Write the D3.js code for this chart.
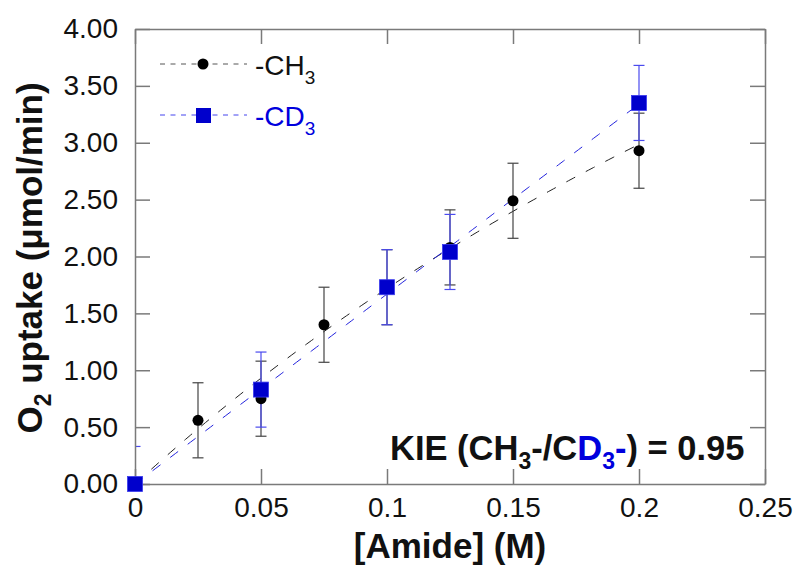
<!DOCTYPE html>
<html>
<head>
<meta charset="utf-8">
<script src="https://cdn.jsdelivr.net/npm/d3@7"></script>
<style>
  body { margin: 0; background: #fff; }
  svg { font-family: "Liberation Sans", Arial, sans-serif; }
</style>
</head>
<body>
<div id="chart"></div>
<script>
// data
var amideCH3 = [0.025, 0.05, 0.075, 0.1, 0.125, 0.15, 0.2];
var uptakeCH3 = [0.56, 0.75, 1.40, 1.73, 2.08, 2.49, 2.93];
var errCH3 = [0.33, 0.33, 0.33, 0.33, 0.33, 0.33, 0.33];

var amideCD3 = [0, 0.05, 0.1, 0.125, 0.2];
var uptakeCD3 = [0, 0.83, 1.73, 2.04, 3.35];
var errCD3 = [0.33, 0.33, 0.33, 0.33, 0.33];

// fitted curves (Michaelis-Menten for CH3, straight line for CD3)
var fitCH3 = { vmax: 11.33, km: 0.559 };
var fitCD3 = { slope: 16.7, intercept: 0 };

var xTicks = [0, 0.05, 0.1, 0.15, 0.2, 0.25];
var xTickLabels = ["0", "0.05", "0.1", "0.15", "0.2", "0.25"];
var yTicks = [0, 0.5, 1, 1.5, 2, 2.5, 3, 3.5, 4];
var yTickLabels = ["0.00", "0.50", "1.00", "1.50", "2.00", "2.50", "3.00", "3.50", "4.00"];

var svgWidth = 799;
var svgHeight = 568;

var margin = {
    top: 29,
    right: 34,
    bottom: 84,
    left: 135
};

var width = svgWidth - margin.left - margin.right;
var height = svgHeight - margin.top - margin.bottom;

var blue = "#0000cc";
var blueBar = "#4a4aee";
var axisColor = "#7a7a7a";

var svg = d3.select("#chart")
    .append("svg")
    .attr("width", svgWidth)
    .attr("height", svgHeight);

var chartGroup = svg.append("g")
    .attr("transform", `translate(${margin.left}, ${margin.top})`);

var xScale = d3.scaleLinear().domain([0, 0.25]).range([0, width]);
var yScale = d3.scaleLinear().domain([0, 4]).range([height, 0]);

svg.append("defs").append("clipPath")
    .attr("id", "plotClip")
    .append("rect")
    .attr("width", width)
    .attr("height", height);

// fit curves
var fitX = d3.range(0, 0.2001, 0.002);
var lineGen = d3.line()
    .x(d => xScale(d[0]))
    .y(d => yScale(d[1]));

chartGroup.append("path")
    .datum(fitX.map(x => [x, fitCH3.vmax * x / (fitCH3.km + x)]))
    .attr("d", lineGen)
    .attr("fill", "none")
    .attr("stroke", "#222")
    .attr("stroke-width", 1)
    .attr("stroke-dasharray", "10,12");

chartGroup.append("path")
    .datum(fitX.map(x => [x, fitCD3.slope * x + fitCD3.intercept]))
    .attr("d", lineGen)
    .attr("fill", "none")
    .attr("stroke", "#2222dd")
    .attr("stroke-width", 1)
    .attr("stroke-dasharray", "10,12");

function drawErrorBars(xs, ys, es, color) {
    var g = chartGroup.append("g").attr("clip-path", "url(#plotClip)");
    xs.forEach((x, i) => {
        var cx = xScale(x);
        var y1 = yScale(ys[i] + es[i]);
        var y2 = yScale(ys[i] - es[i]);
        g.append("line").attr("x1", cx).attr("x2", cx).attr("y1", y1).attr("y2", y2)
            .attr("stroke", color).attr("stroke-width", 1.2);
        [y1, y2].forEach(y => {
            g.append("line").attr("x1", cx - 5.5).attr("x2", cx + 5.5).attr("y1", y).attr("y2", y)
                .attr("stroke", color).attr("stroke-width", 1.2);
        });
    });
}

drawErrorBars(amideCH3, uptakeCH3, errCH3, "#444");
drawErrorBars(amideCD3, uptakeCD3, errCD3, blueBar);

// axes, ticks pointing inward on all four sides
var bottomAxis = d3.axisBottom(xScale).tickValues(xTicks)
    .tickFormat((d, i) => xTickLabels[i]).tickSizeInner(-15).tickSizeOuter(0).tickPadding(13);
var topAxis = d3.axisTop(xScale).tickValues(xTicks)
    .tickFormat("").tickSizeInner(-15).tickSizeOuter(0);
var leftAxis = d3.axisLeft(yScale).tickValues(yTicks)
    .tickFormat((d, i) => yTickLabels[i]).tickSizeInner(-15).tickSizeOuter(0).tickPadding(17);
var rightAxis = d3.axisRight(yScale).tickValues(yTicks)
    .tickFormat("").tickSizeInner(-15).tickSizeOuter(0);

var xAxis = chartGroup.append("g")
    .attr("transform", `translate(0, ${height})`)
    .call(bottomAxis);
chartGroup.append("g").call(topAxis);
var yAxis = chartGroup.append("g").call(leftAxis);
chartGroup.append("g").attr("transform", `translate(${width}, 0)`).call(rightAxis);

chartGroup.selectAll(".domain, .tick line")
    .attr("stroke", axisColor)
    .attr("stroke-width", 1.5);

chartGroup.selectAll(".tick text")
    .attr("fill", "#111")
    .style("font-size", "28px")
    .style("font-family", "'Liberation Sans', Arial, sans-serif");

// markers
chartGroup.append("g").selectAll("circle")
    .data(amideCH3)
    .enter()
    .append("circle")
    .attr("cx", d => xScale(d))
    .attr("cy", (d, i) => yScale(uptakeCH3[i]))
    .attr("r", 5.5)
    .attr("fill", "#000");

var sq = 15;
chartGroup.append("g").selectAll("rect")
    .data(amideCD3)
    .enter()
    .append("rect")
    .attr("x", d => xScale(d) - sq / 2)
    .attr("y", (d, i) => yScale(uptakeCD3[i]) - sq / 2)
    .attr("width", sq)
    .attr("height", sq)
    .attr("fill", blue)
    .attr("stroke", "#3a3aee")
    .attr("stroke-width", 0.8);

// legend
var legend = svg.append("g");
legend.append("line").attr("x1", 160).attr("x2", 247).attr("y1", 64).attr("y2", 64)
    .attr("stroke", "#555").attr("stroke-dasharray", "5,5.5");
legend.append("circle").attr("cx", 203).attr("cy", 64).attr("r", 5.5).attr("fill", "#000");
var t1 = legend.append("text").attr("x", 255).attr("y", 75).style("font-size", "28px").attr("fill", "#111");
t1.append("tspan").text("-CH");
t1.append("tspan").text("3").style("font-size", "19px").attr("dy", 9);

legend.append("line").attr("x1", 160).attr("x2", 247).attr("y1", 115).attr("y2", 115)
    .attr("stroke", "#4444ee").attr("stroke-dasharray", "5,5.5");
legend.append("rect").attr("x", 196).attr("y", 108).attr("width", 15).attr("height", 15).attr("fill", blue);
var t2 = legend.append("text").attr("x", 255).attr("y", 126).style("font-size", "28px").attr("fill", "#0000dd");
t2.append("tspan").text("-CD");
t2.append("tspan").text("3").style("font-size", "19px").attr("dy", 9);

// KIE annotation
var kie = svg.append("text").attr("x", 390).attr("y", 460)
    .style("font-size", "34.5px").style("font-weight", "bold").attr("fill", "#111");
kie.append("tspan").text("KIE (CH");
kie.append("tspan").text("3").style("font-size", "23px").attr("dy", 9);
kie.append("tspan").text("-/C").attr("dy", -9);
kie.append("tspan").text("D").attr("fill", "#0000dd");
kie.append("tspan").text("3").style("font-size", "23px").attr("dy", 9).attr("fill", "#0000dd");
kie.append("tspan").text("-").attr("dy", -9).attr("fill", "#0000dd");
kie.append("tspan").text(") = 0.95");

// axis titles
svg.append("text")
    .attr("x", 450)
    .attr("y", 558)
    .attr("text-anchor", "middle")
    .style("font-size", "35px")
    .style("font-weight", "bold")
    .attr("fill", "#111")
    .text("[Amide] (M)");

var yTitle = svg.append("text")
    .attr("transform", "translate(42, 258) rotate(-90)")
    .attr("text-anchor", "middle")
    .style("font-size", "35px")
    .style("font-weight", "bold")
    .attr("fill", "#111");
yTitle.append("tspan").text("O");
yTitle.append("tspan").text("2").style("font-size", "23px").attr("dy", 9);
yTitle.append("tspan").text(" uptake (\u03bcmol/min)").attr("dy", -9);
</script>
</body>
</html>
